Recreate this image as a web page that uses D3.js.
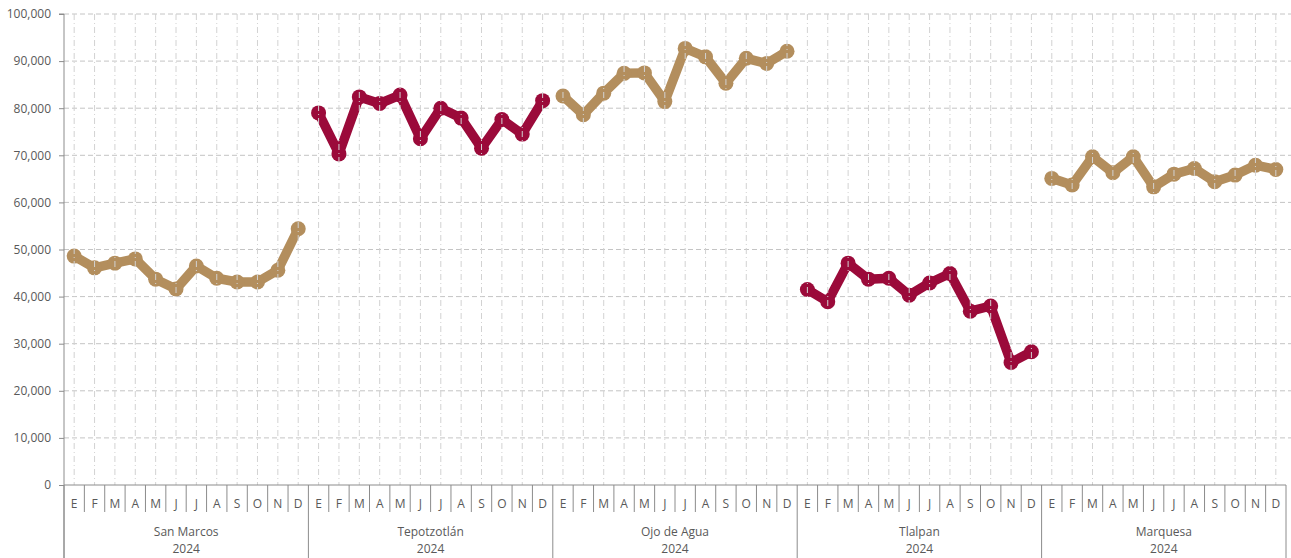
<!DOCTYPE html>
<html><head><meta charset="utf-8">
<script src="https://cdn.jsdelivr.net/npm/d3@7"></script>
<style>
html,body{margin:0;padding:0;background:#fff;}
svg{display:block;font-family:"Open Sans","Noto Sans",sans-serif;}
</style></head>
<body><svg id="c" width="1291" height="558"></svg>
<script>
const months = ["E","F","M","A","M","J","J","A","S","O","N","D"];
const groups = ["San Marcos","Tepotzotlán","Ojo de Agua","Tlalpan","Marquesa"];
const year = "2024";
const colors = ["#b38e5d","#9b0a3a","#b38e5d","#9b0a3a","#b38e5d"];
const sanMarcos   = [48600,46100,47100,48000,43700,41600,46500,43900,43100,43100,45600,54400];
const tepotzotlan = [79000,70300,82400,81000,82800,73500,80000,77900,71500,77600,74500,81600];
const ojoDeAgua   = [82600,78600,83200,87400,87500,81400,92700,90900,85300,90600,89500,92100];
const tlalpan     = [41500,38900,47100,43700,43900,40300,42900,44900,36900,38000,26000,28300];
const marquesa    = [65100,63700,69700,66300,69700,63300,66000,67200,64400,65800,67900,67000];
const series = [sanMarcos,tepotzotlan,ojoDeAgua,tlalpan,marquesa];
const yTicks = [0,10000,20000,30000,40000,50000,60000,70000,80000,90000,100000];

const svg = d3.select("#c");
const L = 64, R = 1286, T = 14, B = 485;
const keys = [];
groups.forEach((g,gi)=>months.forEach((m,mi)=>keys.push(gi+"-"+mi)));
const x = d3.scaleBand().domain(keys).range([L,R]);
const y = d3.scaleLinear().domain([0,100000]).range([B,T]);
const fmt = d3.format(",");

// horizontal grid
svg.append("g").selectAll("line").data(yTicks.filter(d=>d>0)).join("line")
  .attr("x1",L).attr("x2",1291).attr("y1",d=>y(d)).attr("y2",d=>y(d))
  .attr("stroke","#c4c4c4").attr("stroke-width",1).attr("stroke-dasharray","5,3");

// y axis
const ya = svg.append("g").attr("transform",`translate(${L},0)`)
  .call(d3.axisLeft(y).tickValues(yTicks).tickFormat(fmt).tickSize(5).tickPadding(8));
ya.select(".domain").attr("stroke","#8c8c8c").attr("d",`M-5,${T}H0V558`);
ya.selectAll(".tick line").attr("stroke","#8c8c8c");
ya.selectAll("text").attr("fill","#595959").style("font-size","12px").style("font-family","'Open Sans',sans-serif");

// series
series.forEach((vals,gi)=>{
  const pts = vals.map((v,mi)=>[x(gi+"-"+mi)+x.bandwidth()/2, y(v)]);
  svg.append("path").attr("d",d3.line()(pts)).attr("fill","none")
    .attr("stroke",colors[gi]).attr("stroke-width",9.5)
    .attr("stroke-linejoin","round").attr("stroke-linecap","round");
  svg.append("g").selectAll("circle").data(pts).join("circle")
    .attr("cx",d=>d[0]).attr("cy",d=>d[1]).attr("r",7.5).attr("fill",colors[gi]);
});

// vertical grid (drawn on top)
svg.append("g").selectAll("line").data(keys).join("line")
  .attr("x1",d=>x(d)+x.bandwidth()/2).attr("x2",d=>x(d)+x.bandwidth()/2)
  .attr("y1",T).attr("y2",B)
  .attr("stroke","#d2d2d2").attr("stroke-width",1).attr("stroke-dasharray","6,3,1,3");

// x axis
const xa = svg.append("g");
xa.append("line").attr("x1",L).attr("x2",R).attr("y1",B).attr("y2",B).attr("stroke","#8c8c8c");
const bounds = d3.range(0,keys.length+1);
xa.selectAll("line.sep").data(bounds).join("line").attr("class","sep")
  .attr("x1",i=>L+i*x.step()).attr("x2",i=>L+i*x.step())
  .attr("y1",B).attr("y2",i=> i%12===0 ? 558 : 512)
  .attr("stroke","#8c8c8c").attr("stroke-width",1);
xa.selectAll("text.m").data(keys).join("text").attr("class","m")
  .attr("x",d=>x(d)+x.bandwidth()/2).attr("y",508)
  .attr("text-anchor","middle").attr("fill","#595959").style("font-size","12px")
  .text(d=>months[+d.split("-")[1]]);
groups.forEach((g,gi)=>{
  const cx = L + (gi*12+6)*x.step();
  xa.append("text").attr("x",cx).attr("y",536).attr("text-anchor","middle")
    .attr("fill","#595959").style("font-size","12px").text(g);
  xa.append("text").attr("x",cx).attr("y",553).attr("text-anchor","middle")
    .attr("fill","#595959").style("font-size","12px").text(year);
});
</script></body></html>
